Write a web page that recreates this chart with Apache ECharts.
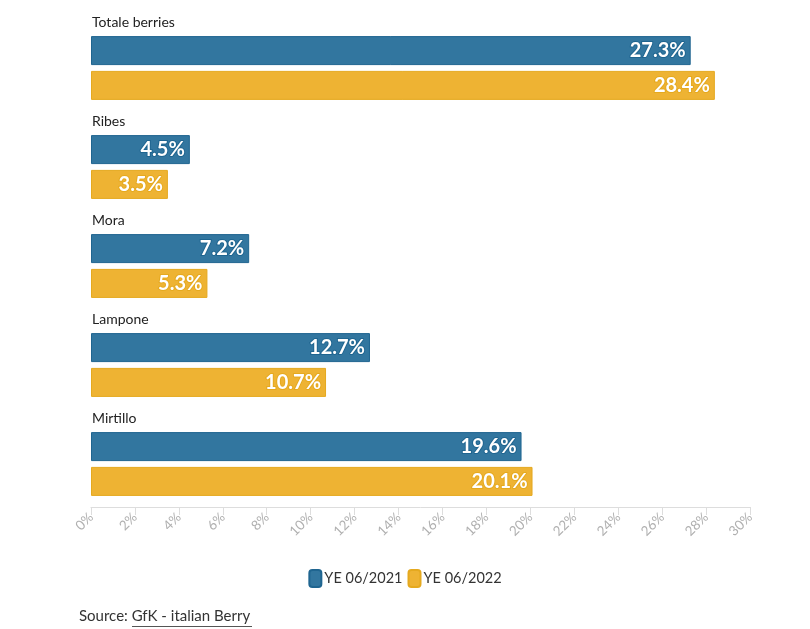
<!DOCTYPE html>
<html><head><meta charset="utf-8">
<script src="https://cdn.jsdelivr.net/npm/echarts@6/dist/echarts.min.js"></script>
<style>html,body{margin:0;padding:0;background:#fff}#c{width:810px;height:629px}</style>
</head><body><div id="c"></div>
<script>
var categories = ['Totale berries', 'Ribes', 'Mora', 'Lampone', 'Mirtillo'];
var seriesNames = ['YE 06/2021', 'YE 06/2022'];
var ye2021 = [27.3, 4.5, 7.2, 12.7, 19.6];
var ye2022 = [28.4, 3.5, 5.3, 10.7, 20.1];
var colors = ['#32769f', '#eeb333'];
var borders = ['#1f6590', '#e5a91f'];
var FONT = 'Lato, "Source Sans Pro", "Noto Sans", sans-serif';

var chart = echarts.init(document.getElementById('c'));
function mk(name, data, i) {
  return {
    name: name, type: 'bar', data: data, barWidth: 29, barGap: '20%',
    itemStyle: { color: colors[i], borderColor: borders[i], borderWidth: 1 },
    label: {
      show: true, position: 'insideRight', distance: 5,
      formatter: function (p) { return p.value.toFixed(1) + '%'; },
      color: '#fff', fontWeight: 'bold', fontSize: 20, fontFamily: FONT,
      textBorderColor: borders[i], textBorderWidth: 2
    }
  };
}
chart.setOption({
  animation: false,
  textStyle: { fontFamily: FONT },
  grid: { left: 91, right: 60, top: 18.5, bottom: 115.5 },
  xAxis: {
    type: 'value', min: 0, max: 30, interval: 2, offset: -6.5,
    axisLine: { show: true, lineStyle: { color: '#dddddd' } },
    axisTick: { show: true, length: 8, lineStyle: { color: '#dddddd' } },
    splitLine: { show: false },
    axisLabel: { formatter: '{value}%', rotate: 45, color: '#b0b0b0', fontSize: 13.5, margin: 8, fontFamily: FONT }
  },
  yAxis: {
    type: 'category', data: categories, inverse: true,
    axisLine: { show: false }, axisTick: { show: false },
    axisLabel: {
      inside: true, interval: 0, margin: 1, align: 'left', verticalAlign: 'middle',
      lineHeight: 23,
      formatter: function (v) { return v + '\n \n \n \n '; },
      color: '#222', fontSize: 14, fontFamily: FONT
    }
  },
  legend: {
    bottom: 36, left: 'center', itemWidth: 12, itemHeight: 17, itemGap: 5,
    icon: 'roundRect',
    textStyle: { color: '#333', fontSize: 14.5, fontFamily: FONT, padding: [0, 0, 0, -2] },
    data: seriesNames
  },
  graphic: [
    { type: 'text', left: 79, top: 609, style: { text: 'Source: GfK - italian Berry', fill: '#333', font: '15px ' + FONT } },
    { type: 'rect', shape: { x: 132, y: 626, width: 120, height: 1 }, style: { fill: '#555' } }
  ],
  series: [mk(seriesNames[0], ye2021, 0), mk(seriesNames[1], ye2022, 1)]
});
</script></body></html>
